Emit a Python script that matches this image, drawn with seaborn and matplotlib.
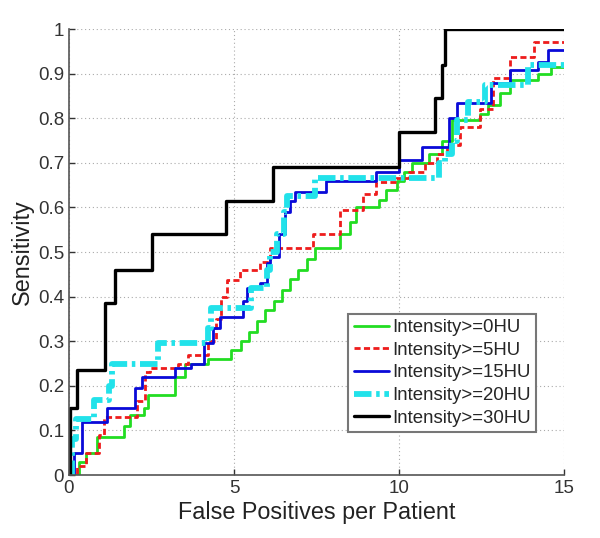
import numpy as np
import pandas as pd
import seaborn as sns
import matplotlib
matplotlib.use("Agg")
import matplotlib.pyplot as plt
from matplotlib.ticker import FormatStrFormatter

# step curves (x = false positives per patient, y = sensitivity after the step)
x_0hu = [0, 0.3, 0.5, 0.85, 1.67, 1.85, 2.27, 2.4, 3.2, 3.5, 4.2, 4.9, 5.2, 5.45, 5.7, 5.95,
         6.2, 6.45, 6.7, 6.95, 7.2, 7.45, 8.2, 8.5, 8.7, 9.4, 9.6, 9.95, 10.15, 10.4, 10.9,
         11.3, 11.6, 12.45, 12.7, 13.06, 13.36, 14.2, 14.6, 15]
y_0hu = [0, 0.03, 0.05, 0.085, 0.11, 0.135, 0.15, 0.18, 0.22, 0.25, 0.26, 0.28, 0.30, 0.32, 0.345, 0.37,
         0.39, 0.415, 0.44, 0.46, 0.485, 0.51, 0.54, 0.567, 0.60, 0.617, 0.64, 0.66, 0.68, 0.70, 0.72,
         0.75, 0.795, 0.81, 0.83, 0.856, 0.886, 0.90, 0.915, 0.915]

x_5hu = [0, 0.25, 0.5, 0.9, 1.05, 2.06, 2.3, 2.45, 3.3, 3.6, 4.2, 4.45, 4.6, 4.79, 5.18, 5.79,
         6.1, 7.4, 8.2, 8.9, 9.3, 9.9, 10.3, 10.8, 11.15, 11.45, 11.85, 12.45, 12.85, 13.36, 14.1, 15]
y_5hu = [0, 0.02, 0.05, 0.09, 0.13, 0.165, 0.23, 0.24, 0.25, 0.27, 0.30, 0.35, 0.40, 0.437, 0.46, 0.477,
         0.51, 0.54, 0.594, 0.63, 0.657, 0.665, 0.68, 0.70, 0.72, 0.74, 0.78, 0.82, 0.89, 0.937, 0.97, 0.97]

x_15hu = [0, 0.15, 0.4, 1.15, 2.0, 2.2, 3.2, 3.7, 4.1, 4.35, 4.58, 5.27, 5.4, 5.8, 6.0, 6.09,
          6.35, 6.55, 6.7, 6.85, 7.8, 9.3, 10.0, 10.7, 11.5, 11.75, 12.8, 13.36, 14.2, 14.5, 15]
y_15hu = [0, 0.05, 0.12, 0.15, 0.195, 0.22, 0.24, 0.25, 0.295, 0.33, 0.355, 0.39, 0.42, 0.43, 0.475, 0.49,
          0.54, 0.59, 0.615, 0.635, 0.66, 0.68, 0.706, 0.735, 0.80, 0.834, 0.88, 0.908, 0.926, 0.953, 0.953]

x_20hu = [0, 0.1, 0.2, 0.75, 1.2, 1.3, 2.7, 4.2, 4.3, 5.5, 6.0, 6.1, 6.3, 6.5, 6.6, 7.45,
          11.2, 11.4, 11.6, 11.75, 12.1, 12.6, 13.9, 15]
y_20hu = [0, 0.08, 0.125, 0.168, 0.2, 0.25, 0.295, 0.33, 0.374, 0.42, 0.46, 0.5, 0.54, 0.59, 0.625, 0.665,
          0.70, 0.72, 0.75, 0.796, 0.836, 0.875, 0.92, 0.92]

x_30hu = [0, 0.02, 0.24, 1.09, 1.39, 2.5, 4.76, 6.18, 10.0, 11.09, 11.3, 11.4, 15]
y_30hu = [0, 0.15, 0.235, 0.385, 0.46, 0.54, 0.615, 0.69, 0.77, 0.845, 0.92, 1.0, 1.0]

labels = ["Intensity>=0HU", "Intensity>=5HU", "Intensity>=15HU",
          "Intensity>=20HU", "Intensity>=30HU"]

curves = [
    (x_0hu, y_0hu, "#22dd22", "-", 2.0),
    (x_5hu, y_5hu, "#ee1c1c", (0, (2.2, 1.2)), 2.0),
    (x_15hu, y_15hu, "#0a0ad8", "-", 2.0),
    (x_20hu, y_20hu, "#22e2ea", (0, (3.0, 0.8, 0.6, 0.8)), 4.2),
    (x_30hu, y_30hu, "#000000", "-", 2.4),
]

sns.set_theme(style="white")
plt.rcParams["font.family"] = ["Liberation Sans", "DejaVu Sans"]

fig = plt.figure(figsize=(6.0, 5.38), dpi=100)
ax = fig.add_axes([0.115, 0.117, 0.825, 0.829])

for (xs, ys, color, ls, lw), label in zip(curves, labels):
    df = pd.DataFrame({"fp": xs, "sens": ys})
    sns.lineplot(data=df, x="fp", y="sens", ax=ax, color=color, linestyle=ls,
                 linewidth=lw, drawstyle="steps-post", estimator=None, label=label)

ax.set_xlim(0, 15)
ax.set_ylim(0, 1)
ax.set_xticks([0, 5, 10, 15])
ax.set_yticks(np.round(np.arange(0, 1.01, 0.1), 1))
ax.yaxis.set_major_formatter(FormatStrFormatter("%g"))
ax.grid(True, linestyle=(0, (1, 2.5)), color="#aaaaaa", linewidth=0.8)
ax.set_axisbelow(True)

for side in ["top", "right"]:
    ax.spines[side].set_visible(False)
for side in ["left", "bottom"]:
    ax.spines[side].set_color("#555555")
    ax.spines[side].set_linewidth(1.2)

ax.tick_params(direction="in", length=4, width=1, colors="#333333", labelsize=13.5,
               left=True, bottom=True)
ax.set_xlabel("False Positives per Patient", fontsize=16.8, color="#222222", labelpad=3)
ax.set_ylabel("Sensitivity", fontsize=16.8, color="#222222", labelpad=3)

leg = ax.legend(loc="lower left", bbox_to_anchor=(0.564, 0.096), fontsize=13.4,
                frameon=True, fancybox=False, edgecolor="#777777", framealpha=1,
                handlelength=1.9, labelspacing=0.3, borderpad=0.3, handletextpad=0.15,
                borderaxespad=0)
leg.get_frame().set_linewidth(1.5)

fig.savefig("out.png", dpi=100)
